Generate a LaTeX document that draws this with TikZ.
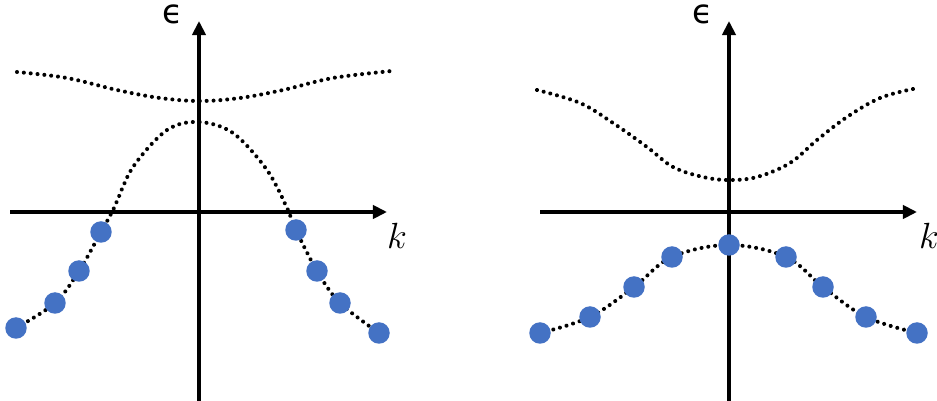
\documentclass[tikz,border=0pt]{standalone}
\usepackage{fontspec}
\usepackage{tikz}
\usetikzlibrary{arrows.meta}
\newfontfamily\epsfont{DejaVu Sans}
\definecolor{DotBlue}{RGB}{68,114,196}

\begin{document}
\begin{tikzpicture}[x=0.02cm, y=-0.02cm,
    axis/.style={line width=2.3pt, -{Triangle[length=8pt,width=7.5pt]}},
    band/.style={line width=2.3pt, line cap=round, dash pattern=on 0.01pt off 3.9pt},
    state/.style={circle, fill=DotBlue, inner sep=0pt, minimum size=0.43cm},
    epslabel/.style={font=\epsfont\fontsize{19}{21}\selectfont, inner sep=0pt},
    klabel/.style={font=\fontsize{22}{24}\selectfont, inner sep=0pt}]
  \useasboundingbox (0,0) rectangle (937,401);

  % left panel
  \coordinate (LxL) at (10,212); \coordinate (LxR) at (387,212);
  \coordinate (LyB) at (199,401); \coordinate (LyT) at (199,21);
  \draw[axis] (LxL) -- (LxR);
  \draw[axis] (LyB) -- (LyT);
  \node[epslabel] (Leps) at (173,14) {ϵ};
  \node[klabel] (Lk) at (397,236) {$k$};
  \draw[band] plot[smooth, tension=0.6] coordinates {(17,72) (67,78) (117,90) (160,98) (200,101)
    (240,98) (283,90) (333,78) (392,71)};
  \coordinate (L1) at (16,328); \coordinate (L2) at (55,303);
  \coordinate (L3) at (79,271); \coordinate (L4) at (101,232);
  \coordinate (L5) at (296,230); \coordinate (L6) at (317,271);
  \coordinate (L7) at (340,303); \coordinate (L8) at (379,333);
  \draw[band] plot[smooth, tension=0.55] coordinates {(L1) (L2) (L3) (L4) (114,208) (133,167)
    (167,130) (199,122) (233,133) (267,170) (288,210) (L5) (L6) (L7) (L8)};
  \foreach \p in {L1,L2,L3,L4,L5,L6,L7,L8}
    \node[state] at (\p) {};

  % right panel
  \coordinate (RxL) at (540,212); \coordinate (RxR) at (917,212);
  \coordinate (RyB) at (729,401); \coordinate (RyT) at (729,21);
  \draw[axis] (RxL) -- (RxR);
  \draw[axis] (RyB) -- (RyT);
  \node[epslabel] (Reps) at (703,14) {ϵ};
  \node[klabel] (Rk) at (929,236) {$k$};
  \draw[band] plot[smooth, tension=0.6] coordinates {(537,90) (580,103) (613,123) (647,147)
    (673,167) (703,177) (729,180) (757,177) (790,163) (817,140) (847,117) (880,98) (913,89)};
  \coordinate (R1) at (540,333); \coordinate (R2) at (590,317);
  \coordinate (R3) at (634,287); \coordinate (R4) at (672,257);
  \coordinate (R5) at (729,245); \coordinate (R6) at (786,257);
  \coordinate (R7) at (823,287); \coordinate (R8) at (866,317);
  \coordinate (R9) at (917,333);
  \draw[band] plot[smooth, tension=0.6] coordinates {(R1) (R2) (R3) (R4) (R5) (R6) (R7) (R8) (R9)};
  \foreach \p in {R1,R2,R3,R4,R5,R6,R7,R8,R9}
    \node[state] at (\p) {};
\end{tikzpicture}
\end{document}
